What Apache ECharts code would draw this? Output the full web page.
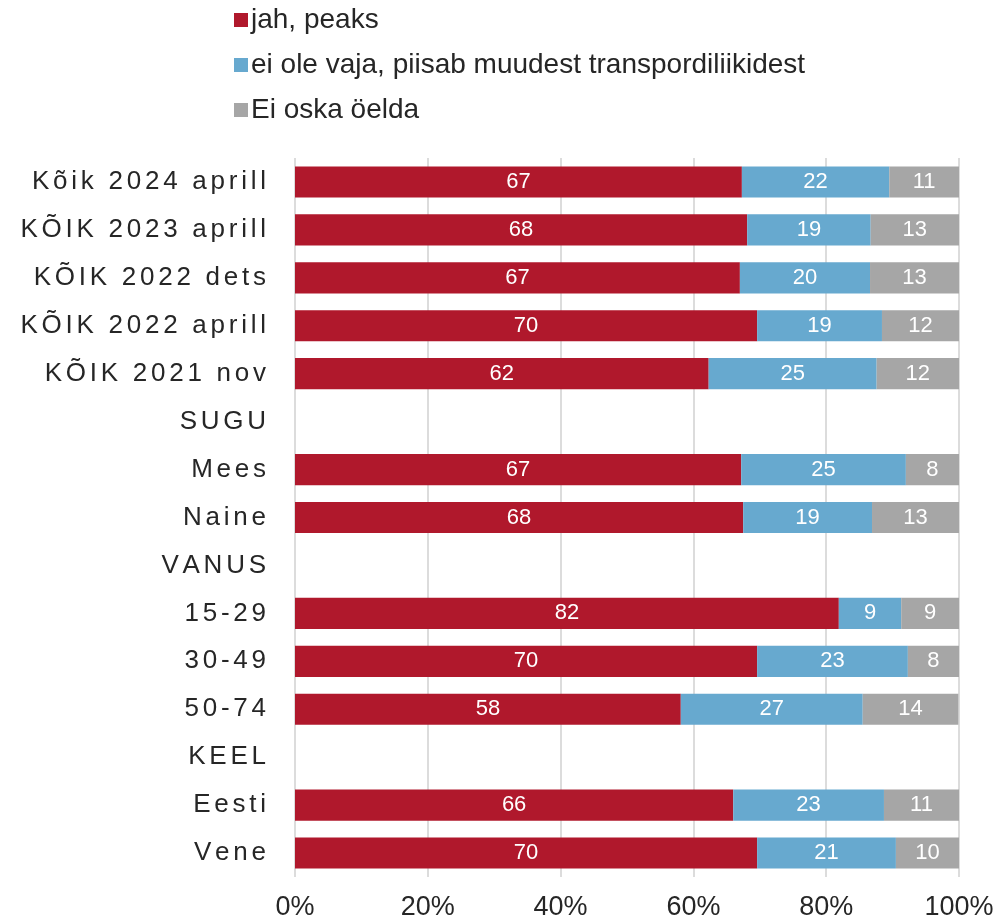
<!DOCTYPE html>
<html>
<head>
<meta charset="utf-8">
<script src="https://cdn.jsdelivr.net/npm/echarts@6/dist/echarts.min.js"></script>
<style>
  html, body { margin: 0; padding: 0; background: #fff; }
  #main { width: 997px; height: 922px; }
</style>
</head>
<body>
<div id="main"></div>
<script>
// kategooriad (ülevalt alla)
var categories = ['Kõik 2024 aprill', 'KÕIK 2023 aprill', 'KÕIK 2022 dets', 'KÕIK 2022 aprill', 'KÕIK 2021 nov',
  'SUGU', 'Mees', 'Naine', 'VANUS', '15-29', '30-49', '50-74', 'KEEL', 'Eesti', 'Vene'];
var seriesNames = ['jah, peaks', 'ei ole vaja, piisab muudest transpordiliikidest', 'Ei oska öelda'];
// protsendid, rühmapealkirjade real tühi
var jahPeaks = [67.3, 68.1, 67.0, 69.6, 62.3, null, 67.2, 67.5, null, 81.9, 69.6, 58.1, null, 66.0, 69.6];
var eiOleVaja = [22.2, 18.6, 19.6, 18.8, 25.3, null, 24.8, 19.4, null, 9.4, 22.7, 27.4, null, 22.7, 20.9];
var eiOska = [10.5, 13.3, 13.4, 11.6, 12.4, null, 8.0, 13.1, null, 8.7, 7.7, 14.4, null, 11.3, 9.5];
var xTicks = [0, 20, 40, 60, 80, 100];

var colors = ['#B0182C', '#67A9CF', '#A6A6A6'];

var dom = document.getElementById('main');
var myChart = echarts.init(dom);

function spaced(s) {
  // tähevahe: väike tühik tähtede vahel
  return s.split('').join('{s| }');
}

function barSeries(name, data, idx) {
  return {
    name: name,
    type: 'bar',
    stack: 'kokku',
    barWidth: '65%',
    data: data,
    itemStyle: { color: colors[idx] },
    label: {
      show: true,
      position: 'inside',
      color: '#fff',
      fontFamily: 'Liberation Sans',
      fontSize: 22,
      formatter: function (p) {
        return p.value == null ? '' : Math.round(p.value);
      }
    }
  };
}

var option = {
  animation: false,
  color: colors,
  legend: {
    orient: 'vertical',
    left: 229,
    top: 1,
    itemWidth: 14,
    itemHeight: 14,
    itemGap: 17,
    icon: 'rect',
    textStyle: { fontFamily: 'Liberation Sans', fontSize: 28, color: '#262626', padding: [0, 0, 0, -2] },
    data: seriesNames
  },
  grid: {
    left: 295,
    right: 38,
    top: 158,
    bottom: 45
  },
  xAxis: {
    type: 'value',
    min: 0,
    max: 100,
    interval: 20,
    axisLine: { show: false },
    axisTick: { show: false },
    axisLabel: {
      margin: 17,
      fontFamily: 'Liberation Sans',
      fontSize: 27,
      color: '#262626',
      formatter: function (v) { return xTicks.indexOf(v) >= 0 ? v + '%' : ''; }
    },
    splitLine: { show: true, lineStyle: { color: '#DCDCDC', width: 2 } }
  },
  yAxis: {
    type: 'category',
    inverse: true,
    data: categories,
    axisLine: { show: false },
    axisTick: { show: false },
    axisLabel: {
      margin: 29,
      fontFamily: 'Liberation Sans',
      fontSize: 26,
      color: '#262626',
      formatter: function (v) { return spaced(v); },
      rich: {
        s: { fontFamily: 'Liberation Sans', fontSize: 13.5 }
      }
    }
  },
  series: [
    barSeries(seriesNames[0], jahPeaks, 0),
    barSeries(seriesNames[1], eiOleVaja, 1),
    barSeries(seriesNames[2], eiOska, 2)
  ]
};

if (option && typeof option === 'object') {
  myChart.setOption(option, true);
}
</script>
</body>
</html>
